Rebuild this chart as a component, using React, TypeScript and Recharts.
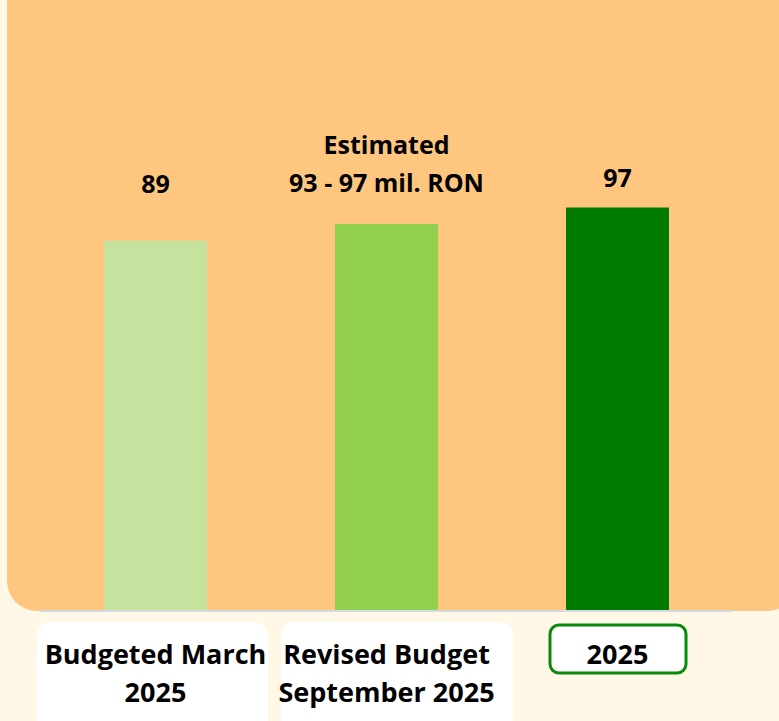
import { BarChart, Bar, XAxis, YAxis, Cell, LabelList } from "recharts";

const categories = [["Budgeted March", "2025"], ["Revised Budget", "September 2025"], ["2025"]];
const values = [89, 93, 97];
const valueLabels = [["89"], ["Estimated", "93 - 97 mil. RON"], ["97"]];

const barColors = ["#C4E39E", "#92D050", "#007A00"];
// label center y relative to bar top, per bar
const labelOffsets = [-54, -39, -27];
const tickBoxes = [
  { dx: -118.5, w: 231, top: 11, h: 120, border: false },
  { dx: -105.5, w: 232, top: 11, h: 120, border: false },
  { dx: -67.5, w: 136, top: 14, h: 48, border: true },
];

const FONT = "'Open Sans', Lato, sans-serif";

const data = categories.map((c, i) => ({ name: c.join(" "), value: values[i] }));

const CategoryTick = (props: any) => {
  const { x, y, index } = props;
  const i = index ?? props.payload?.index ?? 0;
  const box = tickBoxes[i];
  const lines = categories[i];
  return (
    <g>
      <rect
        x={x + box.dx}
        y={y + box.top}
        width={box.w}
        height={box.h}
        rx={box.border ? 9 : 14}
        fill="#FFFFFF"
        stroke={box.border ? "#0A8A0A" : "none"}
        strokeWidth={box.border ? 3 : 0}
      />
      {lines.map((l, k) => (
        <text
          key={k}
          x={x}
          y={y + 46 + k * 38}
          textAnchor="middle"
          dominantBaseline="middle"
          fontFamily={FONT}
          fontWeight={700}
          fontSize={27}
          fill="#000"
        >
          {l}
        </text>
      ))}
    </g>
  );
};

const ValueLabel = (props: any) => {
  const { x, y, width, index } = props;
  const lines = valueLabels[index];
  const cy = y + labelOffsets[index];
  return (
    <g>
      {lines.map((l, k) => (
        <text
          key={k}
          x={x + width / 2}
          y={cy - (lines.length - 1 - k) * 38}
          textAnchor="middle"
          dominantBaseline="middle"
          fontFamily={FONT}
          fontWeight={700}
          fontSize={25}
          fill="#000"
        >
          {l}
        </text>
      ))}
    </g>
  );
};

export default function App() {
  return (
    <div style={{ position: "relative", width: 779, height: 721, background: "#FFF8E6", overflow: "hidden" }}>
      <style>{"body{margin:0}"}</style>
      <div
        style={{
          position: "absolute",
          left: 7,
          top: -40,
          width: 790,
          height: 651,
          background: "#FEC67F",
          borderRadius: 30,
        }}
      />
      <div style={{ position: "absolute", left: 0, top: 0 }}>
        <BarChart width={779} height={721} data={data} margin={{ top: 195, right: 46, bottom: 0, left: 40 }} barSize={103}>
          <XAxis
            dataKey="name"
            height={110}
            tickSize={0}
            tickMargin={0}
            tickLine={false}
            axisLine={{ stroke: "#D3D9E0", strokeWidth: 2 }}
            tick={<CategoryTick />}
            interval={0}
          />
          <YAxis hide domain={[0, 100]} />
          <Bar dataKey="value" isAnimationActive={false}>
            {data.map((_, i) => (
              <Cell key={i} fill={barColors[i]} />
            ))}
            <LabelList dataKey="value" content={<ValueLabel />} />
          </Bar>
        </BarChart>
      </div>
    </div>
  );
}
